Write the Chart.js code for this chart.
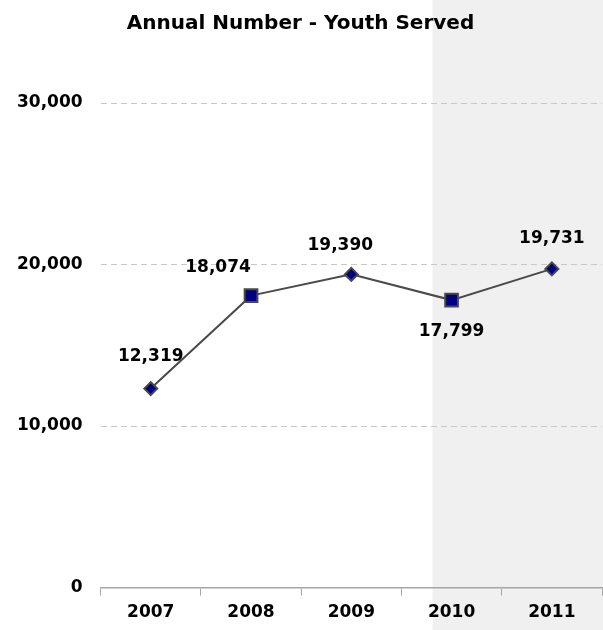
<!DOCTYPE html>
<html>
<head>
<meta charset="utf-8">
<script src="https://cdn.jsdelivr.net/npm/chart.js@4"></script>
<style>
  html, body { margin: 0; padding: 0; background: #fff; overflow: hidden; }
  #wrap { width: 603px; height: 630px; }
  canvas { display: block; }
</style>
</head>
<body>
<div id="wrap"><canvas id="myChart" width="603" height="630"></canvas></div>
<script>
const years = ["2007", "2008", "2009", "2010", "2011"];
const youthServed = [12319, 18074, 19390, 17799, 19731];
const markerShapes = ["rectRot", "rect", "rectRot", "rect", "rectRot"];
const yTicks = [0, 10000, 20000, 30000];

const fontFamily = "'DejaVu Sans', sans-serif";

// grey band behind the last years
const shadePlugin = {
  id: 'shade',
  beforeDraw(chart) {
    const xs = chart.scales.x;
    const w = xs.getPixelForValue(1) - xs.getPixelForValue(0);
    const left = xs.getPixelForValue(3) - 0.19 * w;
    const ctx = chart.ctx;
    ctx.save();
    ctx.fillStyle = '#f0f0f0';
    ctx.fillRect(left, 0, chart.width - left, chart.height);
    ctx.restore();
  }
};

// value labels next to the points
const labelPlugin = {
  id: 'valueLabels',
  afterDatasetsDraw(chart) {
    const ctx = chart.ctx;
    const meta = chart.getDatasetMeta(0);
    const offsets = [[0, -32], [-33, -28], [-11, -29], [0, 31], [0, -30]];
    ctx.save();
    ctx.font = 'bold 17px ' + fontFamily;
    ctx.fillStyle = '#000';
    ctx.textAlign = 'center';
    ctx.textBaseline = 'middle';
    meta.data.forEach((pt, i) => {
      const txt = youthServed[i].toLocaleString('en-US');
      ctx.fillText(txt, pt.x + offsets[i][0], pt.y + offsets[i][1]);
    });
    ctx.restore();
  }
};

const data = {
  labels: years,
  datasets: [{
    label: 'Youth Served',
    data: youthServed,
    borderColor: '#4a4a4a',
    borderWidth: 2,
    backgroundColor: '#000080',
    pointStyle: markerShapes,
    pointRadius: [6.5, 9, 6.5, 9, 6.5],
    pointHoverRadius: [6.5, 9, 6.5, 9, 6.5],
    pointBorderColor: '#4a4a4a',
    pointBorderWidth: 2,
    pointBackgroundColor: '#000080',
    tension: 0
  }]
};

const config = {
  type: 'line',
  data: data,
  options: {
    responsive: false,
    animation: false,
    layout: { autoPadding: false, padding: { left: -1, right: 1, top: 12, bottom: 0 } },
    plugins: {
      legend: { display: false },
      tooltip: { enabled: false },
      title: {
        display: true,
        text: 'Annual Number - Youth Served',
        color: '#000',
        font: { family: fontFamily, size: 20, weight: 'bold' },
        padding: { top: 0, bottom: 67 }
      }
    },
    scales: {
      x: {
        offset: true,
        grid: {
          offset: true,
          drawOnChartArea: false,
          drawTicks: true,
          tickLength: 8,
          color: '#a6a6a6'
        },
        border: { color: '#a6a6a6', width: 1.5 },
        ticks: {
          color: '#000',
          font: { family: fontFamily, size: 17, weight: 'bold' },
          padding: 7
        }
      },
      y: {
        min: 0,
        max: 30000,
        afterBuildTicks(axis) {
          axis.ticks = yTicks.map(v => ({ value: v }));
        },
        grid: {
          drawTicks: false,
          color: ctx => ctx.tick && ctx.tick.value === 0 ? 'rgba(0,0,0,0)' : '#c8c8c8',
          lineWidth: 1
        },
        border: { display: false, dash: [6, 4] },
        ticks: {
          color: '#000',
          padding: 18,
          font: { family: fontFamily, size: 17, weight: 'bold' },
          callback: v => v.toLocaleString('en-US')
        }
      }
    }
  },
  plugins: [shadePlugin, labelPlugin]
};

const myChart = new Chart(document.getElementById('myChart'), config);
</script>
</body>
</html>
